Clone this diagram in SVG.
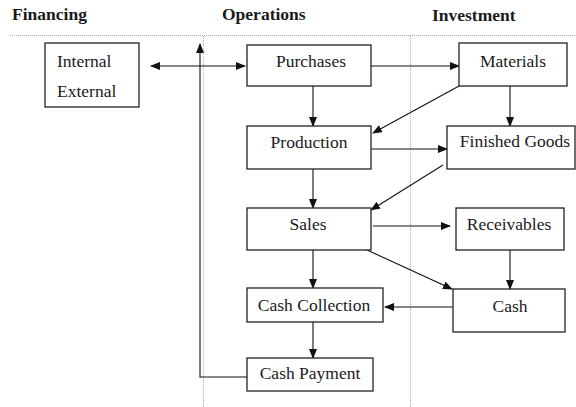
<svg xmlns="http://www.w3.org/2000/svg" width="576" height="407" viewBox="0 0 576 407">
<style>
.hdr{font-family:"Liberation Serif","Times New Roman",serif;font-weight:bold;font-size:17.5px;fill:#1a1a1a}
.lbl{font-family:"Liberation Serif","Times New Roman",serif;font-size:17.5px;fill:#1a1a1a;text-anchor:middle}
.box{fill:#fff;stroke:#222;stroke-width:1.3}
.dot{stroke:#9fb3bf;stroke-width:1;stroke-dasharray:1 1;fill:none}
.ln{stroke:#111;stroke-width:1.1;fill:none}
</style>
<defs>
<marker id="ah" markerUnits="userSpaceOnUse" markerWidth="10" markerHeight="8" refX="9" refY="4" orient="auto-start-reverse">
<path d="M0,0 L10,4 L0,8 Z" fill="#111"/>
</marker>
</defs>
<rect width="576" height="407" fill="#fff"/>
<g id="headers">
<text class="hdr" x="12" y="20">Financing</text>
<text class="hdr" x="222" y="20">Operations</text>
<text class="hdr" x="432" y="21">Investment</text>
</g>
<g id="guides">
<line class="dot" x1="10" y1="35.5" x2="576" y2="35.5"/>
<line class="dot" x1="203.5" y1="36" x2="203.5" y2="407"/>
<line class="dot" x1="410.5" y1="36" x2="410.5" y2="407"/>
</g>
<g id="connectors">
<line class="ln" x1="151" y1="66" x2="245" y2="66" marker-start="url(#ah)" marker-end="url(#ah)"/>
<polyline class="ln" points="247,377 200,377 200,44" marker-end="url(#ah)"/>
<line class="ln" x1="371" y1="66" x2="459" y2="66" marker-end="url(#ah)"/>
<line class="ln" x1="313" y1="86" x2="313" y2="126" marker-end="url(#ah)"/>
<line class="ln" x1="510" y1="86" x2="510" y2="126" marker-end="url(#ah)"/>
<line class="ln" x1="459" y1="86" x2="373" y2="133" marker-end="url(#ah)"/>
<line class="ln" x1="371" y1="149" x2="447" y2="149" marker-end="url(#ah)"/>
<line class="ln" x1="313" y1="169" x2="313" y2="208" marker-end="url(#ah)"/>
<line class="ln" x1="443" y1="165" x2="371" y2="210" marker-end="url(#ah)"/>
<line class="ln" x1="373" y1="226" x2="450" y2="226" marker-end="url(#ah)"/>
<line class="ln" x1="510" y1="250" x2="510" y2="289" marker-end="url(#ah)"/>
<line class="ln" x1="367" y1="250" x2="452" y2="289" marker-end="url(#ah)"/>
<line class="ln" x1="313" y1="250" x2="313" y2="288" marker-end="url(#ah)"/>
<line class="ln" x1="453" y1="307" x2="385" y2="307" marker-end="url(#ah)"/>
<line class="ln" x1="313" y1="322" x2="313" y2="358" marker-end="url(#ah)"/>
</g>
<g id="internal-external">
<rect class="box" x="45" y="43" width="94" height="64"/>
<text class="lbl" x="57" y="67" style="text-anchor:start">Internal</text>
<text class="lbl" x="57" y="97" style="text-anchor:start">External</text>
</g>
<g id="purchases">
<rect class="box" x="247" y="45" width="124" height="41"/>
<text class="lbl" x="311" y="67">Purchases</text>
</g>
<g id="materials">
<rect class="box" x="459" y="43" width="108" height="43"/>
<text class="lbl" x="513" y="67">Materials</text>
</g>
<g id="production">
<rect class="box" x="247" y="126" width="124" height="43"/>
<text class="lbl" x="309" y="148">Production</text>
</g>
<g id="finished-goods">
<rect class="box" x="447" y="126" width="128" height="43"/>
<text class="lbl" x="515" y="147">Finished Goods</text>
</g>
<g id="sales">
<rect class="box" x="247" y="208" width="124" height="42"/>
<text class="lbl" x="308" y="230">Sales</text>
</g>
<g id="receivables">
<rect class="box" x="456" y="208" width="108" height="42"/>
<text class="lbl" x="509" y="230">Receivables</text>
</g>
<g id="cash">
<rect class="box" x="453" y="289" width="112" height="43"/>
<text class="lbl" x="510" y="312">Cash</text>
</g>
<g id="cash-collection">
<rect class="box" x="247" y="288" width="136" height="34"/>
<text class="lbl" x="314" y="311">Cash Collection</text>
</g>
<g id="cash-payment">
<rect class="box" x="247" y="358" width="126" height="33"/>
<text class="lbl" x="310" y="379">Cash Payment</text>
</g>
</svg>
